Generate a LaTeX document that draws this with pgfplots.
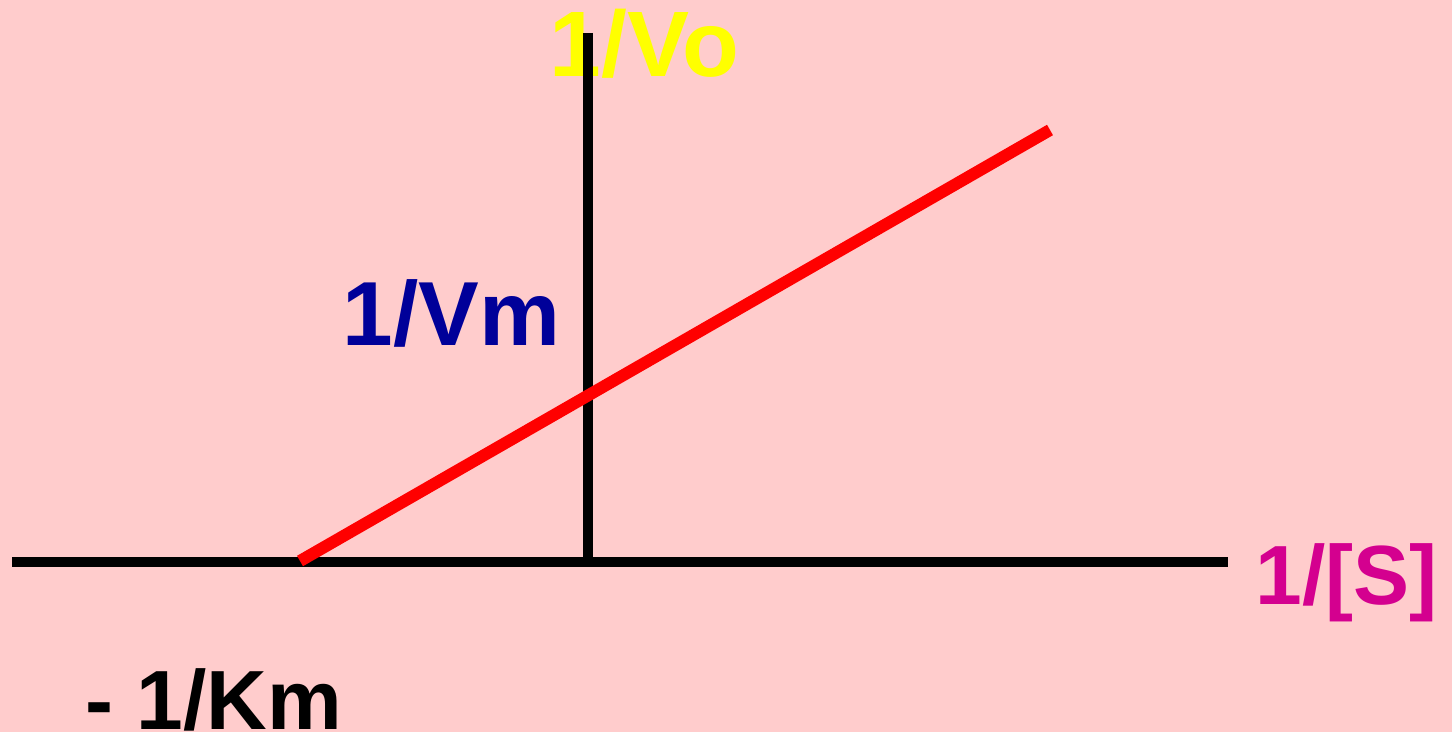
\documentclass[border=0pt]{standalone}
\usepackage{pgfplots}
\pgfplotsset{compat=1.18}
\usepackage{fontspec}
\setmainfont{Liberation Sans}
\definecolor{bgpink}{HTML}{FFCCCC}
\definecolor{vyellow}{HTML}{FFFF00}
\definecolor{vmblue}{HTML}{000099}
\definecolor{smag}{HTML}{D4008F}
\definecolor{lred}{HTML}{FF0000}
\begin{document}
\begin{tikzpicture}
\useasboundingbox (0,0) rectangle (1452pt,732pt);
\fill[bgpink] (0,0) rectangle (1452pt,732pt);
\begin{axis}[
  at={(0,0)}, anchor=south west,
  width=1452pt, height=732pt, scale only axis,
  xmin=0, xmax=1452, ymin=0, ymax=732,
  hide axis, clip=false,
  every node/.style={inner sep=0pt, outer sep=0pt},
]
\node[anchor=base west, font=\bfseries\fontsize{93}{93}\selectfont, text=vyellow] at (axis cs:546,655) {1/Vo};
\node[anchor=base west, font=\bfseries\fontsize{91}{91}\selectfont, text=vmblue] at (axis cs:339,386) {1/Vm};
\node[anchor=base west, font=\bfseries\fontsize{84}{84}\selectfont, text=smag] at (axis cs:1252,128) {1/[S]};
\node[anchor=base west, font=\bfseries\fontsize{84}{84}\selectfont, text=black] at (axis cs:82,3) {- 1/Km};
% axes
\addplot[black, line width=10pt, line cap=butt] coordinates {(12,170) (1228,170)};
\addplot[black, line width=10pt, line cap=butt] coordinates {(588,699) (588,170)};
% Lineweaver-Burk line
\addplot[lred, line width=12pt, line cap=butt] coordinates {(300,171) (1050,602)};
\end{axis}
\end{tikzpicture}
\end{document}
